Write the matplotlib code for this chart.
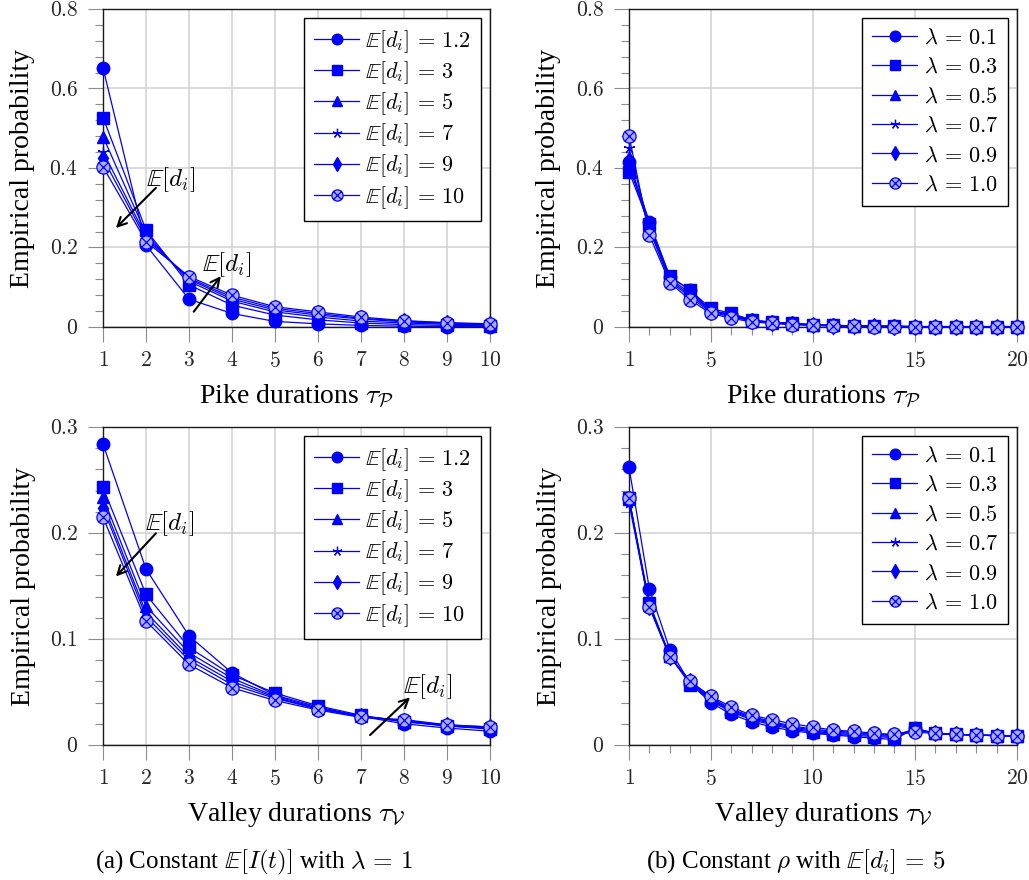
import numpy as np
import matplotlib
matplotlib.use("Agg")
import matplotlib.pyplot as plt
from matplotlib.path import Path
from matplotlib.ticker import MultipleLocator

plt.rcParams['font.family'] = ['Liberation Serif', 'DejaVu Serif']
plt.rcParams['mathtext.fontset'] = 'cm'

# ---------------- data ----------------
x_a = [1, 2, 3, 4, 5, 6, 7, 8, 9, 10]
x_b = list(range(1, 21))

labels_a = [r'$\mathbb{E}[d_i]\,=\,1.2$', r'$\mathbb{E}[d_i]\,=\,3$', r'$\mathbb{E}[d_i]\,=\,5$',
            r'$\mathbb{E}[d_i]\,=\,7$', r'$\mathbb{E}[d_i]\,=\,9$', r'$\mathbb{E}[d_i]\,=\,10$']
labels_b = [r'$\lambda\,=\,0.1$', r'$\lambda\,=\,0.3$', r'$\lambda\,=\,0.5$',
            r'$\lambda\,=\,0.7$', r'$\lambda\,=\,0.9$', r'$\lambda\,=\,1.0$']

# (a) pike durations
pike_a_12 = [0.652, 0.206, 0.070, 0.034, 0.014, 0.008, 0.004, 0.002, 0.001, 0.001]
pike_a_3 = [0.527, 0.244, 0.106, 0.055, 0.030, 0.018, 0.010, 0.006, 0.004, 0.003]
pike_a_5 = [0.479, 0.235, 0.115, 0.065, 0.038, 0.025, 0.015, 0.010, 0.007, 0.005]
pike_a_7 = [0.441, 0.228, 0.120, 0.070, 0.043, 0.030, 0.020, 0.013, 0.009, 0.006]
pike_a_9 = [0.424, 0.222, 0.123, 0.075, 0.047, 0.034, 0.022, 0.015, 0.010, 0.007]
pike_a_10 = [0.403, 0.215, 0.127, 0.080, 0.051, 0.038, 0.025, 0.016, 0.011, 0.008]

# (a) valley durations
valley_a_12 = [0.284, 0.166, 0.103, 0.068, 0.047, 0.036, 0.027, 0.020, 0.016, 0.013]
valley_a_3 = [0.243, 0.142, 0.092, 0.066, 0.049, 0.037, 0.028, 0.022, 0.018, 0.015]
valley_a_5 = [0.234, 0.131, 0.087, 0.063, 0.046, 0.035, 0.027, 0.022, 0.018, 0.016]
valley_a_7 = [0.228, 0.125, 0.083, 0.060, 0.045, 0.034, 0.027, 0.023, 0.018, 0.016]
valley_a_9 = [0.224, 0.121, 0.080, 0.057, 0.044, 0.034, 0.027, 0.023, 0.019, 0.017]
valley_a_10 = [0.215, 0.117, 0.076, 0.054, 0.042, 0.033, 0.026, 0.024, 0.019, 0.017]

# (b) pike durations
pike_b_01 = [0.415, 0.265, 0.126, 0.093, 0.040, 0.033, 0.017, 0.012, 0.009, 0.006,
             0.004, 0.003, 0.002, 0.002, 0.001, 0.001, 0.001, 0.001, 0.001, 0.001]
pike_b_03 = [0.391, 0.258, 0.128, 0.092, 0.047, 0.034, 0.018, 0.012, 0.010, 0.006,
             0.004, 0.003, 0.002, 0.002, 0.001, 0.001, 0.001, 0.001, 0.001, 0.001]
pike_b_05 = [0.405, 0.255, 0.122, 0.085, 0.042, 0.030, 0.016, 0.011, 0.008, 0.005,
             0.004, 0.003, 0.002, 0.002, 0.001, 0.001, 0.001, 0.001, 0.001, 0.001]
pike_b_07 = [0.450, 0.250, 0.118, 0.080, 0.040, 0.028, 0.016, 0.010, 0.007, 0.005,
             0.003, 0.002, 0.002, 0.001, 0.001, 0.001, 0.001, 0.001, 0.001, 0.001]
pike_b_09 = [0.420, 0.245, 0.115, 0.075, 0.037, 0.026, 0.015, 0.010, 0.007, 0.005,
             0.003, 0.002, 0.002, 0.001, 0.001, 0.001, 0.001, 0.001, 0.001, 0.001]
pike_b_10 = [0.481, 0.231, 0.111, 0.068, 0.034, 0.022, 0.013, 0.009, 0.006, 0.004,
             0.003, 0.002, 0.001, 0.001, 0.001, 0.001, 0.001, 0.001, 0.001, 0.001]

# (b) valley durations
valley_b_01 = [0.262, 0.147, 0.090, 0.058, 0.040, 0.029, 0.022, 0.017, 0.0135, 0.011,
               0.0094, 0.0079, 0.0063, 0.0053, 0.0157, 0.011, 0.010, 0.0094, 0.0088, 0.0085]
valley_b_03 = [0.233, 0.134, 0.084, 0.057, 0.042, 0.031, 0.024, 0.019, 0.015, 0.012,
               0.010, 0.009, 0.008, 0.007, 0.0157, 0.011, 0.010, 0.0094, 0.0088, 0.0085]
valley_b_05 = [0.232, 0.132, 0.084, 0.058, 0.043, 0.032, 0.025, 0.020, 0.016, 0.013,
               0.011, 0.010, 0.009, 0.008, 0.0150, 0.011, 0.010, 0.0094, 0.0088, 0.0085]
valley_b_07 = [0.228, 0.131, 0.084, 0.059, 0.044, 0.033, 0.026, 0.021, 0.017, 0.014,
               0.012, 0.011, 0.010, 0.009, 0.0148, 0.011, 0.010, 0.0094, 0.0088, 0.0085]
valley_b_09 = [0.232, 0.130, 0.083, 0.060, 0.045, 0.034, 0.027, 0.022, 0.018, 0.015,
               0.013, 0.012, 0.010, 0.0095, 0.0145, 0.011, 0.010, 0.0094, 0.0088, 0.0085]
valley_b_10 = [0.233, 0.130, 0.083, 0.060, 0.046, 0.036, 0.028, 0.024, 0.020, 0.017,
               0.014, 0.013, 0.011, 0.010, 0.012, 0.011, 0.010, 0.0094, 0.0088, 0.0085]

xticks_a = [1, 2, 3, 4, 5, 6, 7, 8, 9, 10]
xticks_b = [1, 5, 10, 15, 20]
yticks_pike = [0, 0.2, 0.4, 0.6, 0.8]
yticks_valley = [0, 0.1, 0.2, 0.3]
yticklabels_pike = ['$0$', '$0.2$', '$0.4$', '$0.6$', '$0.8$']
yticklabels_valley = ['$0$', '$0.1$', '$0.2$', '$0.3$']

# ---------------- style ----------------
BLUE = (0.0, 0.0, 1.0)
LIGHT = (0.68, 0.68, 1.0)
c = 0.7071
otimes = Path.make_compound_path(
    Path.unit_circle(),
    Path([[-c, -c], [c, c]], [Path.MOVETO, Path.LINETO]),
    Path([[-c, c], [c, -c]], [Path.MOVETO, Path.LINETO]),
)
marker_styles = [
    dict(marker='o', ms=9, mfc=BLUE, mec=BLUE),
    dict(marker='s', ms=8.5, mfc=BLUE, mec=BLUE),
    dict(marker='^', ms=8, mfc=BLUE, mec=BLUE),
    dict(marker=(5, 2, 0), ms=8, mfc=BLUE, mec=BLUE, mew=0.9),
    dict(marker='d', ms=8, mfc=BLUE, mec=BLUE),
    dict(marker=otimes, ms=9.5, mfc=LIGHT, mec=BLUE, mew=0.9),
]

fig = plt.figure(figsize=(10.29, 8.8), dpi=100)
W, H = 1029.0, 880.0


def make_ax(l, r, t, b):
    return fig.add_axes([l / W, (H - b) / H, (r - l) / W, (b - t) / H])


ax_tl = make_ax(103, 490, 9, 327)
ax_tr = make_ax(629, 1017, 9, 327)
ax_bl = make_ax(103, 490, 427, 745)
ax_br = make_ax(629, 1017, 427, 745)


def style_ax(ax, xs, series, labels, xticks, yticks, yticklabels, ymax, yminor, xlabel, xminor,
             labelspacing):
    for ys, lab, ms in zip(series, labels, marker_styles):
        ax.plot(xs, ys, color=BLUE, lw=0.9, label=lab, clip_on=False, zorder=3, **ms)
    ax.set_xlim(xs[0], xs[-1])
    ax.set_ylim(0, ymax)
    ax.set_xticks(xticks)
    ax.set_xticklabels(['$%d$' % v for v in xticks])
    ax.set_yticks(yticks)
    ax.set_yticklabels(yticklabels)
    ax.yaxis.set_minor_locator(MultipleLocator(yminor))
    if xminor:
        ax.xaxis.set_minor_locator(MultipleLocator(1))
    ax.tick_params(which='major', direction='out', length=11, width=0.8, color='0.55',
                   labelsize=15.5, pad=7, labelcolor='0.15')
    ax.tick_params(which='minor', direction='out', length=6, width=0.8, color='0.55')
    ax.grid(True, which='major', color='0.82', lw=1.1, zorder=0)
    ax.set_axisbelow(True)
    for s in ax.spines.values():
        s.set_color('0.1')
        s.set_linewidth(1.0)
    ax.set_ylabel('Empirical probability', fontsize=20, labelpad=10)
    ax.set_xlabel(xlabel, fontsize=20, labelpad=7.5)
    leg = ax.legend(loc='upper right', fontsize=16, frameon=True, fancybox=False,
                    edgecolor='black', framealpha=1, borderaxespad=0.4,
                    handlelength=2.0, handletextpad=0.3, labelspacing=labelspacing,
                    borderpad=0.45, markerscale=0.85)
    leg.get_frame().set_linewidth(1.0)
    leg.set_zorder(5)


style_ax(ax_tl, x_a, [pike_a_12, pike_a_3, pike_a_5, pike_a_7, pike_a_9, pike_a_10], labels_a,
         xticks_a, yticks_pike, yticklabels_pike, 0.8, 0.04,
         r'Pike durations $\tau_{\mathcal{P}}$', False, 0.2)
style_ax(ax_bl, x_a, [valley_a_12, valley_a_3, valley_a_5, valley_a_7, valley_a_9, valley_a_10], labels_a,
         xticks_a, yticks_valley, yticklabels_valley, 0.3, 0.02,
         r'Valley durations $\tau_{\mathcal{V}}$', False, 0.2)
style_ax(ax_tr, x_b, [pike_b_01, pike_b_03, pike_b_05, pike_b_07, pike_b_09, pike_b_10], labels_b,
         xticks_b, yticks_pike, yticklabels_pike, 0.8, 0.04,
         r'Pike durations $\tau_{\mathcal{P}}$', True, 0.4)
style_ax(ax_br, x_b, [valley_b_01, valley_b_03, valley_b_05, valley_b_07, valley_b_09, valley_b_10], labels_b,
         xticks_b, yticks_valley, yticklabels_valley, 0.3, 0.02,
         r'Valley durations $\tau_{\mathcal{V}}$', True, 0.4)

# annotations
arrow = dict(arrowstyle='->', lw=1.5, color='black', shrinkA=0, shrinkB=0, mutation_scale=16)
lab = r'$\mathbb{E}[d_i]$'
ax_tl.annotate('', xy=(1.30, 0.249), xytext=(2.23, 0.35), arrowprops=arrow, zorder=6)
ax_tl.text(2.57, 0.37, lab, fontsize=18, ha='center', va='center', zorder=6)
ax_tl.annotate('', xy=(3.74, 0.128), xytext=(3.11, 0.0385), arrowprops=arrow, zorder=6)
ax_tl.text(3.88, 0.158, lab, fontsize=18, ha='center', va='center', zorder=6)
ax_bl.annotate('', xy=(1.30, 0.159), xytext=(2.23, 0.1997), arrowprops=arrow, zorder=6)
ax_bl.text(2.56, 0.209, lab, fontsize=18, ha='center', va='center', zorder=6)
ax_bl.annotate('', xy=(8.14, 0.045), xytext=(7.21, 0.0094), arrowprops=arrow, zorder=6)
ax_bl.text(8.56, 0.0547, lab, fontsize=18, ha='center', va='center', zorder=6)

# captions
fig.text(254 / W, 1 - 862 / H, r'(a) Constant $\mathbb{E}[I(t)]$ with $\lambda\,=\,1$',
         fontsize=18, ha='center', va='center')
fig.text(796 / W, 1 - 862 / H, r'(b) Constant $\rho$ with $\mathbb{E}[d_i]\,=\,5$',
         fontsize=18, ha='center', va='center')

fig.savefig('out.png', dpi=100)
